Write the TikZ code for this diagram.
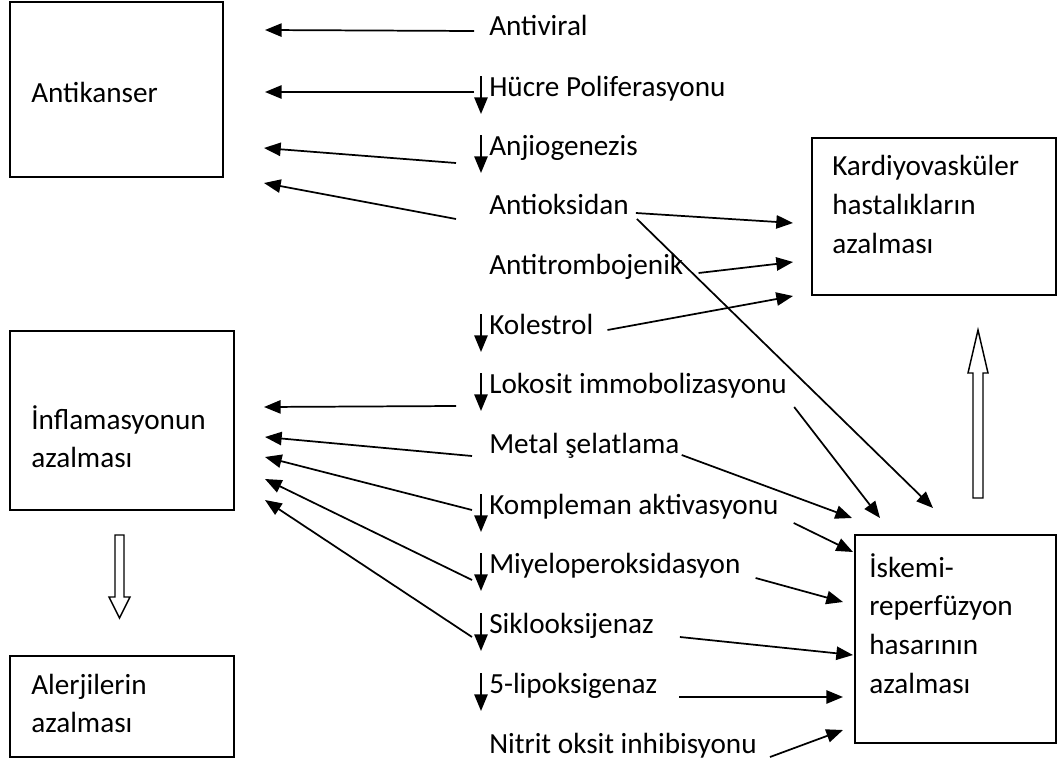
\documentclass[tikz,border=0pt]{standalone}
\usepackage{fontspec}
\setmainfont{Carlito}
\usetikzlibrary{arrows.meta,calc,fit}

\begin{document}
\begin{tikzpicture}[x=0.75pt,y=-0.75pt,>={Triangle[length=12.5pt,width=10pt]},
    every node/.style={font=\fontsize{21.9}{28.5}\selectfont,inner sep=0pt},
    box/.style={draw,line width=1.3pt},
    lbl/.style={anchor=base west},
    conn/.style={->,line width=1.3pt},
    hollow/.style={draw,line width=1.1pt,fill=white}]
    \useasboundingbox (0,0) rectangle (1061,764);

    % boxes
    \node[box,fit={(10,2) (223,177)}]     (antikanser)  {};
    \node[box,fit={(812,138) (1056,295)}] (kardiyo)     {};
    \node[box,fit={(10,331) (234,510)}]   (inflamasyon) {};
    \node[box,fit={(10,656) (234,757)}]   (alerji)      {};
    \node[box,fit={(855,535) (1056,743)}] (iskemi)      {};

    % (base of a multi-line node = last line)
    \node[lbl]            (antikanserT)  at (31,102)  {Antikanser};
    \node[lbl,align=left,font=\fontsize{21.9}{29.2}\selectfont]
                          (kardiyoT)     at (832,253) {Kardiyovasküler\\hastalıkların\\azalması};
    \node[lbl,align=left,font=\fontsize{21.9}{27.8}\selectfont]
                          (inflamasyonT) at (31,467)  {İnflamasyonun\\azalması};
    \node[lbl,align=left,font=\fontsize{21.9}{27.8}\selectfont]
                          (alerjiT)      at (31,732)  {Alerjilerin\\azalması};
    \node[lbl,align=left,font=\fontsize{21.9}{29}\selectfont]
                          (iskemiT)      at (869,693) {İskemi-\\reperfüzyon\\hasarının\\azalması};

    % middle column
    \node[lbl] (antiviral) at (489,35)  {Antiviral};
    \node[lbl] (hucre)     at (489,96)  {Hücre Poliferasyonu};
    \node[lbl] (anjio)     at (489,155) {Anjiogenezis};
    \node[lbl] (antioks)   at (489,214) {Antioksidan};
    \node[lbl] (antitromb) at (489,274) {Antitrombojenik};
    \node[lbl] (kolestrol) at (489,334) {Kolestrol};
    \node[lbl] (lokosit)   at (489,393) {Lokosit immobolizasyonu};
    \node[lbl] (metal)     at (489,453) {Metal şelatlama};
    \node[lbl] (kompleman) at (489,514) {Kompleman aktivasyonu};
    \node[lbl] (miyelo)    at (489,573) {Miyeloperoksidasyon};
    \node[lbl] (siklo)     at (489,633) {Siklooksijenaz};
    \node[lbl] (lipo)      at (489,693) {5-lipoksigenaz};
    \node[lbl] (nitrit)    at (489,753) {Nitrit oksit inhibisyonu};

    % small "decrease" arrows
    \foreach \n in {hucre,anjio,kolestrol,lokosit,kompleman,miyelo,siklo,lipo}
        \draw[conn] ($(\n.base west)+(-8,-20)$) -- ++(0,38);

    % arrow ends
    \coordinate (ak1) at (265,30);
    \coordinate (ak2) at (265,92);
    \coordinate (ak3) at (264,148);
    \coordinate (ak4) at (264,183);
    \coordinate (in1) at (264,407);
    \coordinate (in2) at (265,437);
    \coordinate (in3) at (265,457);
    \coordinate (in4) at (265,479);
    \coordinate (in5) at (265,500);
    \coordinate (kd1) at (793,223);
    \coordinate (kd2) at (793,262);
    \coordinate (kd3) at (793,296);
    \coordinate (is1) at (933,508);
    \coordinate (is2) at (880,518);
    \coordinate (is3) at (852,518);
    \coordinate (is4) at (853,552);
    \coordinate (is5) at (843,602);
    \coordinate (is6) at (853,655);
    \coordinate (is7) at (843,697);
    \coordinate (is8) at (843,730);

    \path[conn] ($(antiviral.base west)+(-15,-4)$) edge (ak1)
                ($(hucre.base west)+(-15,-4)$)     edge (ak2)
                ($(anjio.base west)+(-33,8)$)      edge (ak3)
                ($(antioks.base west)+(-33,5)$)    edge (ak4)
                ($(lokosit.base west)+(-33,13)$)   edge (in1)
                ($(metal.base west)+(-17,3)$)      edge (in2)
                ($(kompleman.base west)+(-17,-4)$) edge (in3)
                ($(miyelo.base west)+(-17,7)$)     edge (in4)
                ($(siklo.base west)+(-17,4)$)      edge (in5);

    \path[conn] ($(antioks.base east)+(7,-1)$)    edge (kd1)
                ($(antioks.base east)+(8,5)$)     edge (is1)
                ($(antitromb.base east)+(15,-1)$) edge (kd2)
                ($(kolestrol.base east)+(14,-4)$) edge (kd3)
                ($(lokosit.base east)+(7,14)$)    edge (is2)
                ($(metal.base east)+(2,2)$)       edge (is3)
                ($(kompleman.base east)+(15,9)$)  edge (is4)
                ($(miyelo.base east)+(15,5)$)     edge (is5)
                ($(siklo.base east)+(26,4)$)      edge (is6)
                ($(lipo.base east)+(22,4)$)       edge (is7)
                ($(nitrit.base east)+(13,4)$)     edge (is8);

    % hollow arrows between boxes
    \draw[hollow] (115,535) -- (124,535) -- (124,597) -- (130,597) -- (119.5,618)
                  -- (109,597) -- (115,597) -- cycle;
    \draw[hollow] (973,498) -- (983,498) -- (983,373) -- (988,373) -- (978,330)
                  -- (968,373) -- (973,373) -- cycle;
\end{tikzpicture}
\end{document}
